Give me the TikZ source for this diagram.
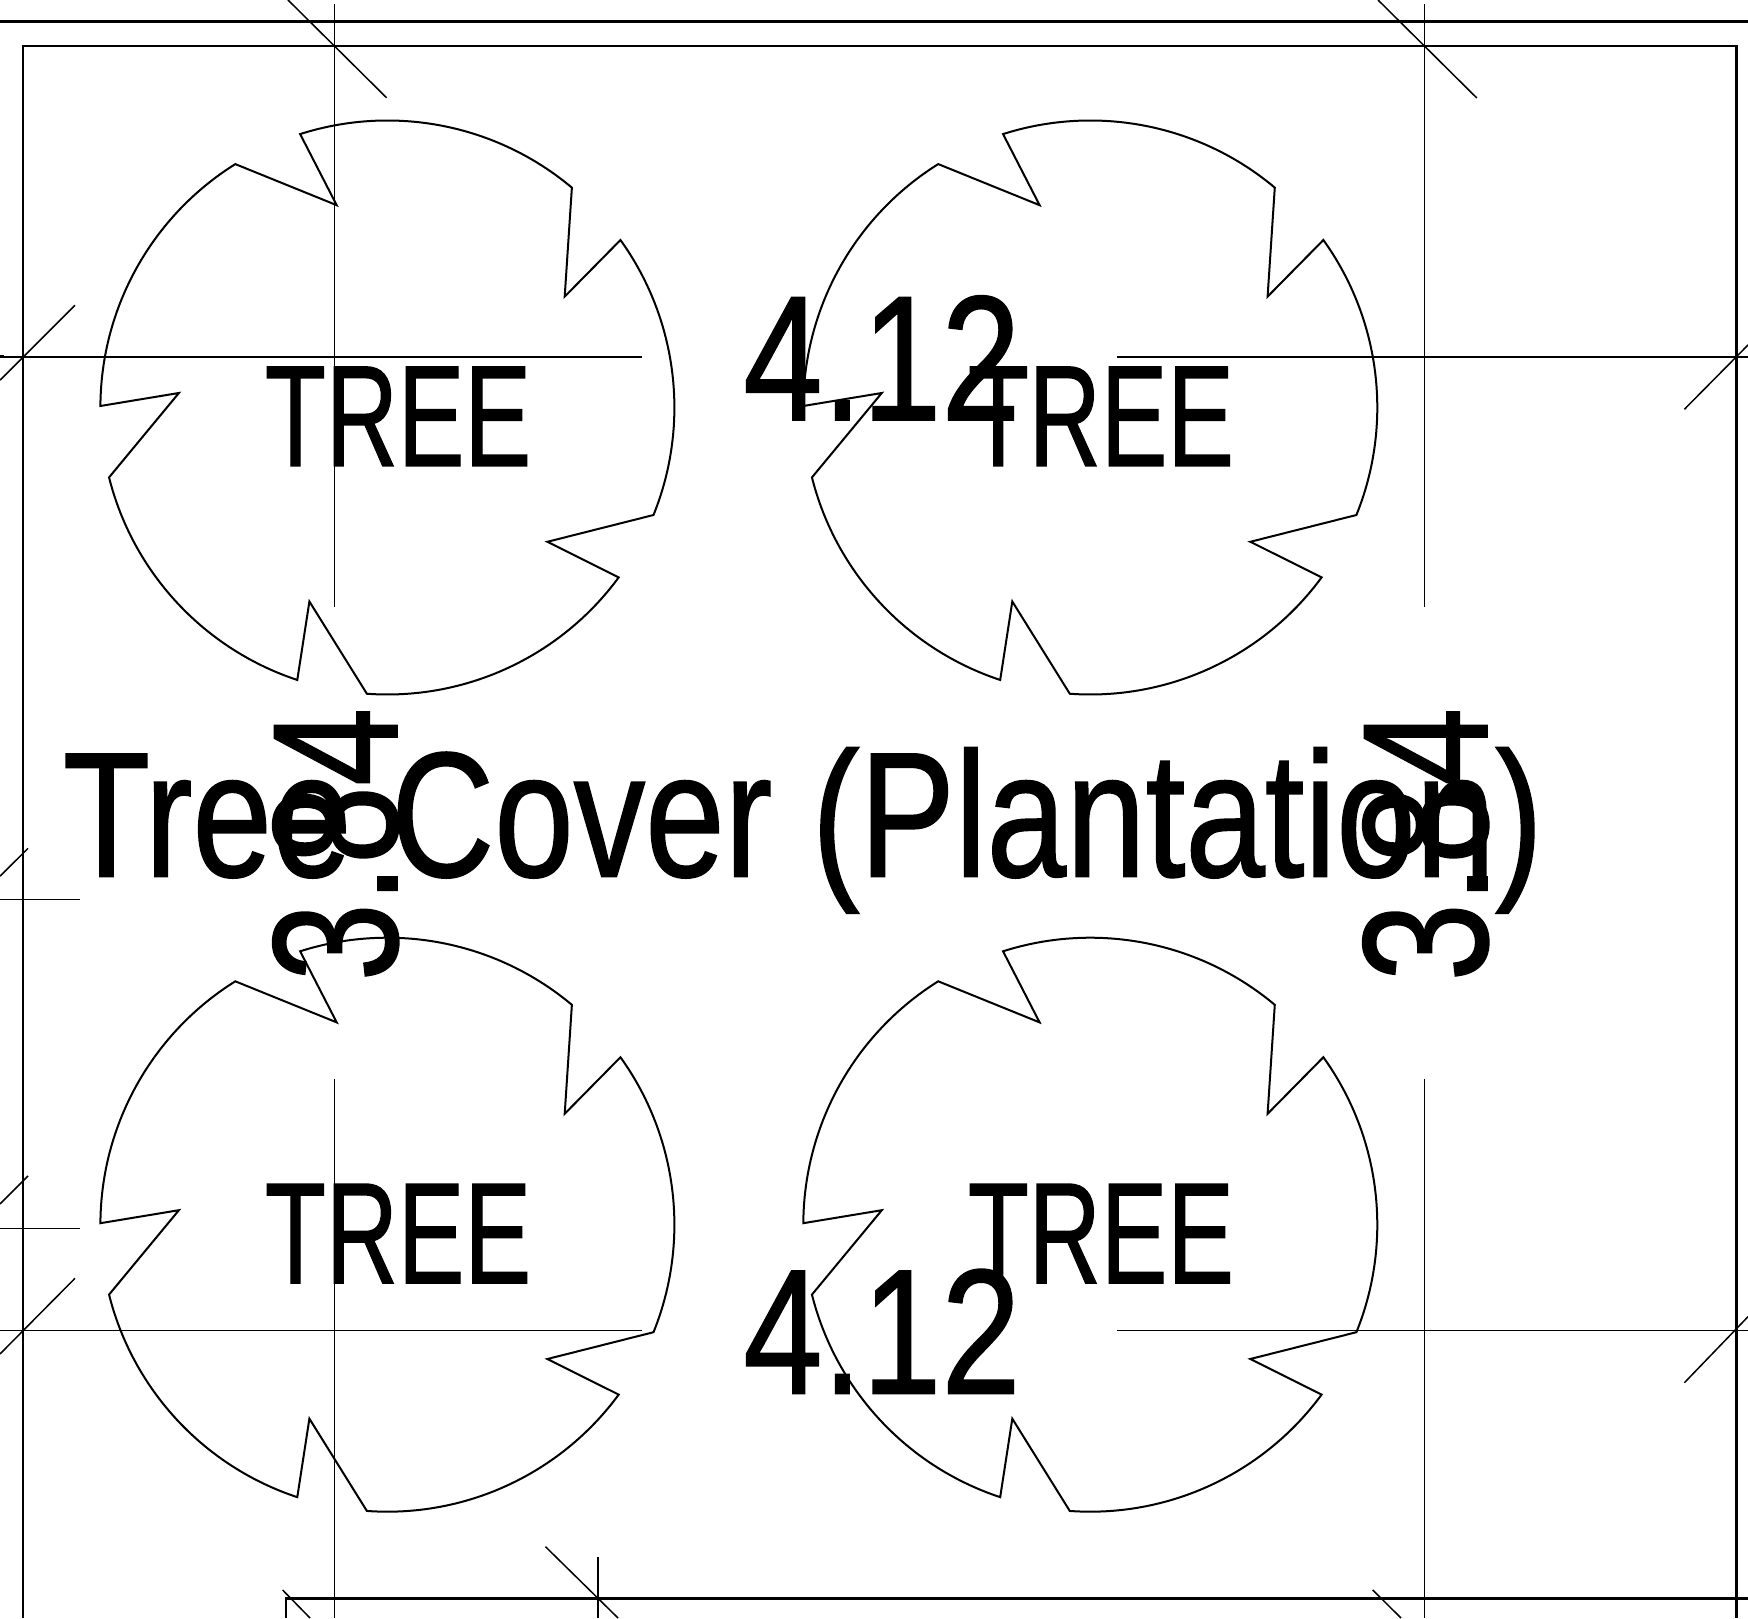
\documentclass[tikz,border=0pt]{standalone}
\usepackage{fontspec}
\setmainfont[FakeBold=1]{Liberation Sans}
\tikzset{
	thinline/.style={color=black, line width=1.5pt},
	frameline/.style={color=black, line width=2.4pt},
	outline/.style={color=black, line width=2pt, line join=miter},
	treelabel/.style={font=\fontsize{144}{144}\selectfont, anchor=base, inner sep=0pt, xscale=0.693, transform shape},
	bigtext/.style={font=\fontsize{178}{178}\selectfont, anchor=base, inner sep=0pt, xscale=#1, transform shape}
}

\begin{document}
\begin{tikzpicture}[x=1pt, y=1pt]
			\useasboundingbox (0,0) rectangle (1748,1618);
			% frames
			\draw[frameline] (0,1596.3) -- (1748,1596.3);
			\draw[frameline] (22.8,0) -- (22.8,1572.1) -- (1736.5,1572.1) -- (1736.5,0);
			\draw[frameline] (285.7,0) -- (285.7,19.7) -- (1748,19.7);
			% grid lines
			\draw[thinline] (334.4,1614) -- (334.4,1011);
			\draw[thinline] (334.4,539) -- (334.4,0);
			\draw[thinline] (1424.7,1614) -- (1424.7,1011);
			\draw[thinline] (1424.7,539) -- (1424.7,0);
			\draw[thinline] (597.8,61.3) -- (597.8,0);
			\draw[thinline] (0,1261.2) -- (641.5,1261.2);
			\draw[thinline] (1117,1261.2) -- (1748,1261.2);
			\draw[thinline] (0,287.3) -- (641.5,287.3);
			\draw[thinline] (1117,287.3) -- (1748,287.3);
			\draw[thinline] (0,718.4) -- (80,718.4);
			\draw[thinline] (0,389.7) -- (80,389.7);
			\draw[thinline] (0,1262.6) -- (4,1262.6);
			% ticks
			\draw[thinline] (288,1618) -- (386.6,1520.2);
			\draw[thinline] (1378,1618) -- (1476.8,1520);
			\draw[thinline] (75,1312.7) -- (0,1237.8);
			\draw[thinline] (75,339.7) -- (0,264);
			\draw[thinline] (1684.4,1208.7) -- (1748,1273);
			\draw[thinline] (1684.4,235.3) -- (1748,301.3);
			\draw[thinline] (28,769.6) -- (0,741.8);
			\draw[thinline] (28,442) -- (0,414);
			\draw[thinline] (545.5,71.3) -- (618,0);
			\draw[thinline] (282.6,28) -- (310,0);
			\draw[thinline] (1372.7,28) -- (1401,0);
			% trees
			\foreach \i/\cx/\cy in {1/387.4/1210.5, 2/1090.3/1210.5, 3/387.4/393.3, 4/1090.3/393.3}{
				\begin{scope}[shift={(\cx,\cy)}]
					\draw[outline] (107.7:287) arc[start angle=107.7, end angle=50, radius=287]
						-- (177.3,110.9) -- (35.7:287) arc[start angle=35.7, end angle=-22, radius=287]
						-- (160,-134.3) -- (-36.3:287) arc[start angle=-36.3, end angle=-94.1, radius=287]
						-- (-78,-194) -- (-108.3:287) arc[start angle=-108.3, end angle=-165.9, radius=287]
						-- (-208.5,14.5) -- (179.7:287) arc[start angle=179.7, end angle=122, radius=287]
						-- (-50.7,202.3) -- cycle;
					\node[treelabel] (tree\i) at (10.6,-58.5) {TREE};
				\end{scope}
			}
			% dimensions
			\node[bigtext=0.8] (dimtop) at (882,1198) {4.12};
			\node[bigtext=0.8] (dimbottom) at (882,224.5) {4.12};
			\node[rotate=90, bigtext=0.79] (dimleft) at (397,773.5) {3.84};
			\node[rotate=90, bigtext=0.79] (dimright) at (1487,773.5) {3.84};
			\node[bigtext=0.803] (title) at (803,741.6) {Tree Cover (Plantation)};
		\end{tikzpicture}
\end{document}
